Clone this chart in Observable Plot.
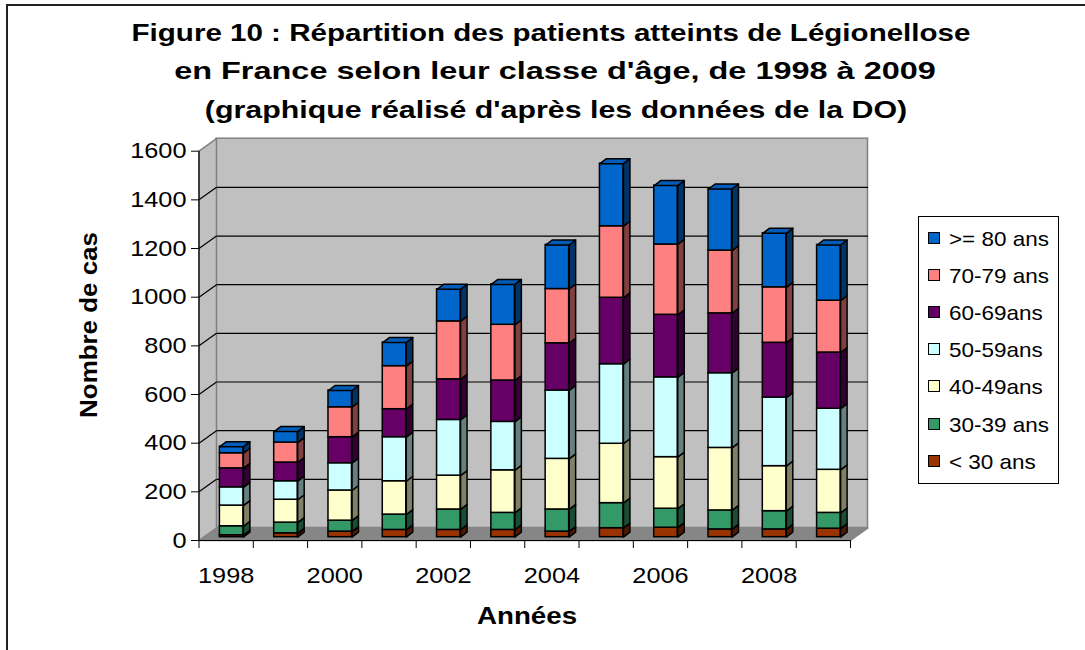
<!DOCTYPE html>
<html><head><meta charset="utf-8">
<script src="https://cdn.jsdelivr.net/npm/d3@7"></script>
<script src="https://cdn.jsdelivr.net/npm/@observablehq/plot@0.6"></script>
<style>
body{margin:0;background:#fff;overflow:hidden;font-family:"Liberation Sans",Arial,sans-serif;}
#page{position:relative;width:1085px;height:650px;overflow:hidden;background:#fff;}
#frame{position:absolute;left:6px;top:4px;width:1200px;height:800px;border:2px solid #222;box-sizing:border-box;}
#chart{position:absolute;left:0;top:0;}
.t{position:absolute;white-space:nowrap;line-height:1;color:#000;}
#legend{position:absolute;left:918px;top:216px;width:141px;height:268px;border:1px solid #000;box-sizing:border-box;background:#fff;}
.sw{position:absolute;width:12px;height:12px;border:1.5px solid #000;box-sizing:border-box;}
.lt{position:absolute;white-space:nowrap;line-height:1;font-size:21px;transform-origin:0 50%;}
</style></head>
<body><div id="page"><div id="frame"></div><div id="chart"></div><div id="legend"></div></div>
<script>
// ---------- data ----------
const years = [1998, 1999, 2000, 2001, 2002, 2003, 2004, 2005, 2006, 2007, 2008, 2009];
const classes = ["< 30 ans", "30-39 ans", "40-49ans", "50-59ans", "60-69ans", "70-79 ans", ">= 80 ans"]; // bottom to top
const lt30   = [8, 16, 23, 30, 30, 30, 23, 37, 39, 32, 32, 35];
const a30_39 = [37, 44, 45, 63, 84, 70, 91, 103, 78, 78, 75, 65];
const a40_49 = [85, 94, 124, 137, 139, 175, 208, 244, 212, 257, 185, 177];
const a50_59 = [75, 76, 112, 181, 229, 199, 281, 327, 328, 307, 282, 251];
const a60_69 = [78, 77, 107, 115, 167, 170, 194, 273, 257, 246, 225, 231];
const a70_79 = [62, 82, 123, 177, 238, 229, 223, 294, 289, 258, 228, 213];
const ge80   = [27, 45, 69, 97, 132, 166, 181, 257, 242, 253, 222, 229];
const yTicks = [0, 200, 400, 600, 800, 1000, 1200, 1400, 1600];
const xLabels = [1998, 2000, 2002, 2004, 2006, 2008];
const title = ["Figure 10 : Répartition des patients atteints de Légionellose",
               "en France selon leur classe d'âge, de 1998 à 2009",
               "(graphique réalisé d'après les données de la DO)"];
const yTitle = "Nombre de cas";
const xTitle = "Années";

// ---------- styles ----------
const frontColors = ["#993300", "#339966", "#FFFFCC", "#CCFFFF", "#660066", "#FF8080", "#0066CC"];
const sideColors  = ["#4D1A00", "#1A4D33", "#808066", "#668080", "#330033", "#804040", "#003366"];
const topColors   = ["#8A2E00", "#2E8A5C", "#E6E6B8", "#B8E6E6", "#5C005C", "#E67373", "#005CB8"];

// ---------- layout ----------
const W = 1085, H = 650, mL = 198.5, mR = 235, mT = 150.7, mB = 110;
const xStart = 1997.5, xEnd = 2009.5, yMax = 1600;
const kx = (W - mL - mR) / (xEnd - xStart);   // px per year
const ky = (H - mT - mB) / yMax;              // px per case
const wallDx = 17.5 / kx, wallDy = 12.5 / ky;
const barHalf = 11.75 / kx, barDx = 6.5 / kx, barDy = 5 / ky;
const faceDx = 5.5, faceDy = -3.3;

const series = [lt30, a30_39, a40_49, a50_59, a60_69, a70_79, ge80];
const fronts = [], sides = [], tops = [];
years.forEach((yr, i) => {
  let acc = 0;
  series.forEach((ser, j) => {
    const y0 = acc, y1 = acc + ser[i]; acc = y1;
    fronts.push({x1: yr - barHalf, x2: yr + barHalf, y1: y0, y2: y1, fill: frontColors[j]});
    const id = yr + "-" + j, xr = yr + barHalf;
    sides.push({id, x: xr, y: y0, fill: sideColors[j]},
               {id, x: xr + barDx, y: y0 + barDy, fill: sideColors[j]},
               {id, x: xr + barDx, y: y1 + barDy, fill: sideColors[j]},
               {id, x: xr, y: y1, fill: sideColors[j]});
  });
  const id = "top" + yr, c = topColors[series.length - 1];
  tops.push({id, x: yr - barHalf, y: acc, fill: c}, {id, x: yr + barHalf, y: acc, fill: c},
            {id, x: yr + barHalf + barDx, y: acc + barDy, fill: c}, {id, x: yr - barHalf + barDx, y: acc + barDy, fill: c});
});
const leftWall = [{x: xStart, y: 0}, {x: xStart, y: yMax}, {x: xStart + wallDx, y: yMax + wallDy}, {x: xStart + wallDx, y: wallDy}];
const floor = [{x: xStart, y: 0}, {x: xEnd, y: 0}, {x: xEnd + wallDx, y: wallDy}, {x: xStart + wallDx, y: wallDy}];
const gridVals = yTicks.filter(v => v > 0 && v < yMax);
const boundaries = d3.range(xStart, xEnd + 0.01, 1);

const chart = Plot.plot({
  width: W, height: H, marginLeft: mL, marginRight: mR, marginTop: mT, marginBottom: mB,
  x: {type: "linear", domain: [xStart, xEnd]},
  y: {type: "linear", domain: [0, yMax]},
  color: {type: "identity"},
  style: {fontFamily: "'Liberation Sans', Arial, sans-serif", fontSize: "22px", color: "#000", background: "transparent", overflow: "visible"},
  marks: [
    Plot.rect([0], {x1: () => xStart + wallDx, x2: () => xEnd + wallDx, y1: () => wallDy, y2: () => yMax + wallDy, fill: "#c0c0c0", stroke: "#808080", strokeWidth: 1.5}),
    Plot.line(leftWall, {x: "x", y: "y", curve: "linear-closed", fill: "#c0c0c0", stroke: "#808080", strokeWidth: 1.5}),
    Plot.link(gridVals, {x1: () => xStart + wallDx, x2: () => xEnd + wallDx, y1: v => v + wallDy, y2: v => v + wallDy, stroke: "#000", strokeWidth: 1.2}),
    Plot.link(gridVals, {x1: () => xStart, x2: () => xStart + wallDx, y1: v => v, y2: v => v + wallDy, stroke: "#000", strokeWidth: 1.2}),
    Plot.line(floor, {x: "x", y: "y", curve: "linear-closed", fill: "#868686", stroke: "#868686"}),
    Plot.ruleX([xStart], {y1: 0, y2: yMax, stroke: "#000", strokeWidth: 1.2}),
    Plot.ruleY([0], {x1: xStart, x2: xEnd, stroke: "#000", strokeWidth: 1.2}),
    Plot.line(sides, {x: "x", y: "y", z: "id", fill: "fill", stroke: "#000", strokeWidth: 1.5, curve: "linear-closed", dx: faceDx, dy: faceDy}),
    Plot.rect(fronts, {x1: "x1", x2: "x2", y1: "y1", y2: "y2", fill: "fill", stroke: "#000", strokeWidth: 1.5, dx: faceDx, dy: faceDy}),
    Plot.line(tops, {x: "x", y: "y", z: "id", fill: "fill", stroke: "#000", strokeWidth: 1.5, curve: "linear-closed", dx: faceDx, dy: faceDy}),
    Plot.axisY({ticks: yTicks, tickSize: 7.5, tickPadding: 5, fontSize: 22, label: null, tickFormat: d => String(d)}),
    Plot.axisX({ticks: boundaries, tickSize: 8, label: null, tickFormat: () => ""}),
    Plot.axisX({ticks: xLabels, tickSize: 0, tickPadding: 27, fontSize: 22, label: null, tickFormat: d => String(d)})
  ]
});
document.getElementById("chart").appendChild(chart);
chart.querySelectorAll("text").forEach(t => {
  const w = t.getComputedTextLength();
  if (w > 0) { t.setAttribute("textLength", (w * 1.15).toFixed(1)); t.setAttribute("lengthAdjust", "spacingAndGlyphs"); }
});

// ---------- html texts ----------
const page = document.getElementById("page");
function addText(txt, cx, cy, size, weight, extra, targetW) {
  const d = document.createElement("div");
  d.className = "t"; d.textContent = txt;
  d.style.left = cx + "px"; d.style.top = cy + "px";
  d.style.fontSize = size + "px"; d.style.fontWeight = weight;
  page.appendChild(d);
  const sx = targetW ? targetW / d.offsetWidth : 1;
  d.style.transform = "translate(-50%,-50%) " + extra + " scaleX(" + sx.toFixed(3) + ")";
}
const titleCenters = [551, 554.5, 556];
const titleWidths = [838, 761, 702];
title.forEach((line, i) => addText(line, titleCenters[i], 32.5 + i * 38.5, 24, "bold", "", titleWidths[i]));
addText(yTitle, 89, 325, 23, "bold", "rotate(-90deg)", 186);
addText(xTitle, 527, 616, 23, "bold", "", 100);

// ---------- legend ----------
const legend = document.getElementById("legend");
classes.slice().reverse().forEach((c, i) => {
  const j = classes.length - 1 - i;
  const cy = 21 + i * 37.1;
  const sw = document.createElement("div");
  sw.className = "sw"; sw.style.left = "9px"; sw.style.top = (cy - 6) + "px"; sw.style.background = frontColors[j];
  legend.appendChild(sw);
  const t = document.createElement("div");
  t.className = "lt"; t.textContent = c; t.style.left = "30px"; t.style.top = cy + "px";
  t.style.transform = "translateY(-50%) scaleX(1.07)";
  legend.appendChild(t);
});
</script></body></html>
